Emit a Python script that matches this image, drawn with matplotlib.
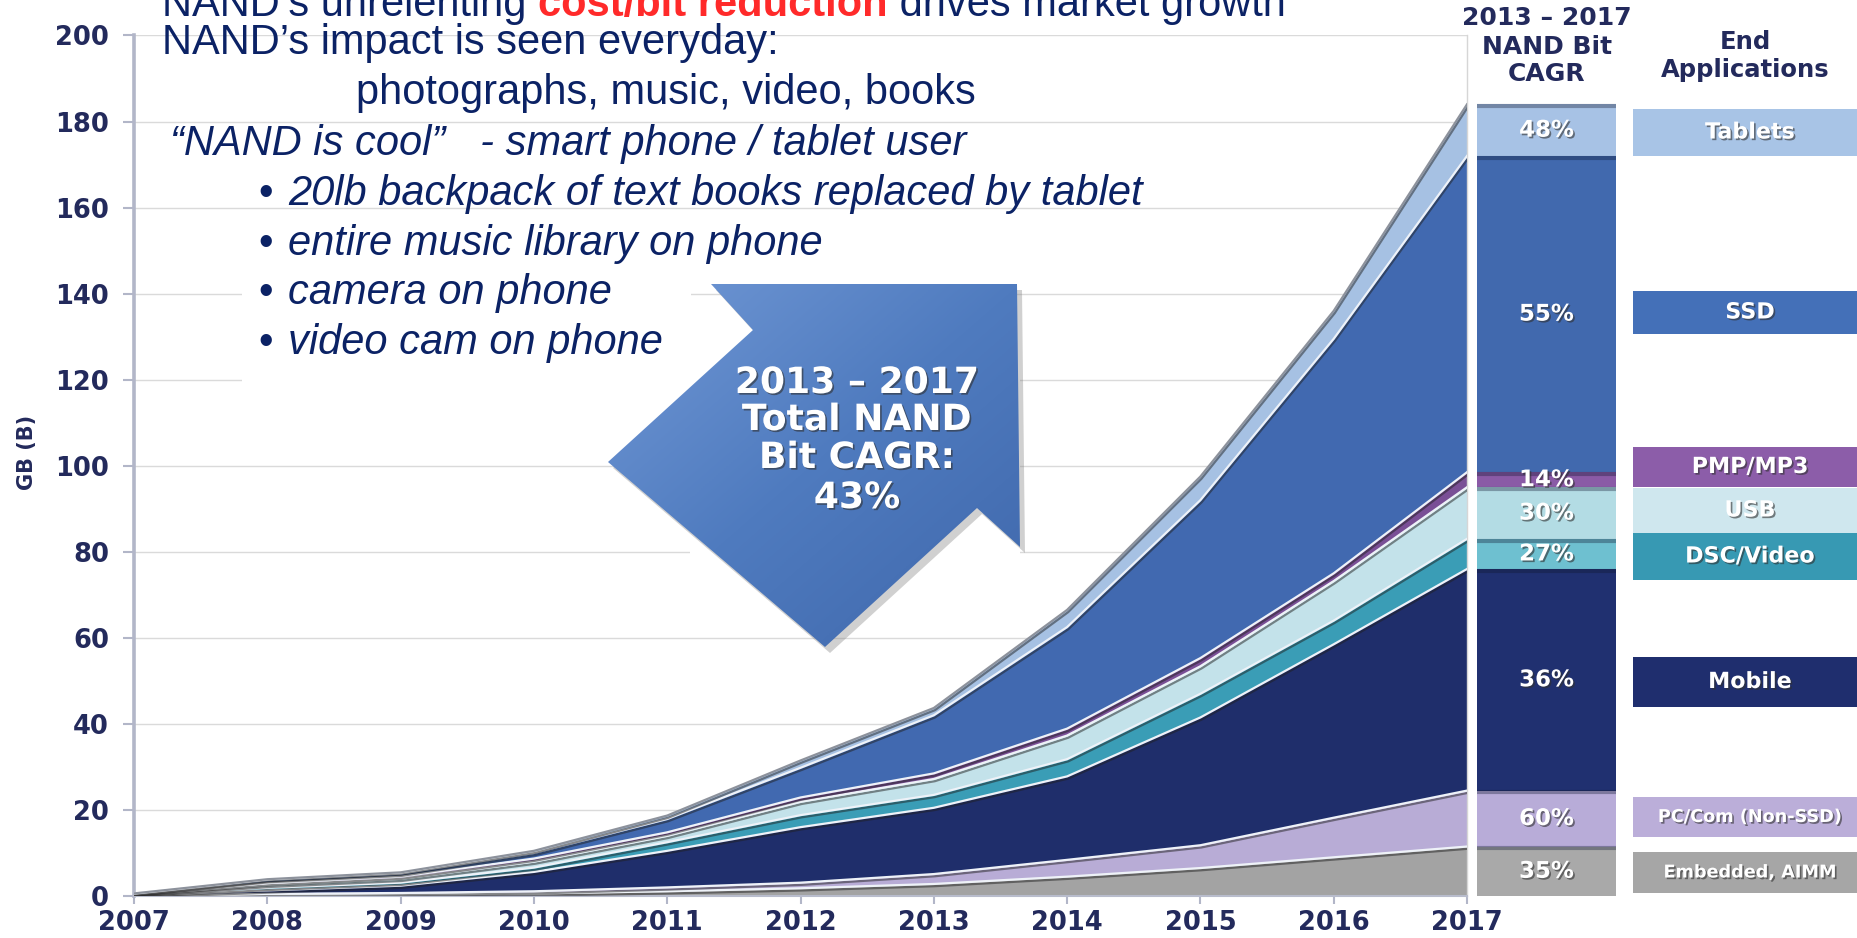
"""
NAND 用途別ビット需要（2007-2017）の積み上げ面グラフ。

右側に 2013-2017 の用途別 CAGR バーと用途ラベルを並べる。

出力:
    out.png
"""

import numpy as np
import matplotlib
matplotlib.use("Agg")
import matplotlib.pyplot as plt
import matplotlib.patheffects as pe
from matplotlib import font_manager
from matplotlib.patches import Polygon, Rectangle
from matplotlib.colors import LinearSegmentedColormap

# ── データ（GB (B)、下から積み上げ順）─────────────────────────────────────────
YEARS = list(range(2007, 2018))

EMBEDDED  = [0.03, 0.2, 0.35, 0.6, 1.1, 1.8, 2.8, 4.5, 6.5, 9.0, 11.5]
PC_COM    = [0.03, 0.3, 0.35, 0.5, 0.9, 1.3, 2.3, 3.9, 5.3, 9.2, 13.0]
MOBILE    = [0.09, 0.8, 1.7, 4.5, 8.5, 12.9, 15.4, 19.4, 29.7, 40.3, 51.5]
DSC_VIDEO = [0.10, 0.6, 0.7, 1.0, 2.0, 2.8, 3.0, 4.0, 5.5, 5.5, 7.0]
USB       = [0.10, 0.7, 0.9, 1.4, 1.5, 3.1, 3.7, 5.5, 6.4, 9.2, 12.0]
PMP_MP3   = [0.10, 0.4, 0.5, 0.7, 0.8, 1.0, 1.3, 1.6, 1.9, 1.8, 3.5]
SSD       = [0.10, 0.7, 0.7, 1.3, 3.1, 6.9, 13.5, 23.6, 36.7, 54.5, 73.5]
TABLETS   = [0.05, 0.2, 0.3, 0.5, 0.8, 1.7, 1.7, 4.0, 5.5, 6.5, 12.0]

APP_NAMES = ["Embedded, AIMM", "PC/Com (Non-SSD)", "Mobile", "DSC/Video",
             "USB", "PMP/MP3", "SSD", "Tablets"]
CAGR_LABELS = ["35%", "60%", "36%", "27%", "30%", "14%", "55%", "48%"]
TOTAL_CAGR = "43%"

# ── 色・フォント ──────────────────────────────────────────────────────────────
AREA_COLORS   = ["#a3a3a3", "#b8acd6", "#1f2e6b", "#3a9db6",
                 "#c3e2ea", "#7a4f96", "#4169b0", "#a6c1e3"]
BAR_COLORS    = ["#a9a9a9", "#b8acd8", "#203070", "#6ec0d0",
                 "#b3dce4", "#8a5aa6", "#4169ae", "#a7c2e5"]
LEGEND_COLORS = ["#a6a6a6", "#bbaed9", "#1f2e6e", "#3799b3",
                 "#cfe7ee", "#8c5da9", "#4470b8", "#a8c4e6"]
NAVY = "#0b2265"
TICK_NAVY = "#232a5c"

_fonts = {f.name for f in font_manager.fontManager.ttflist}
_narrow_sizes = {"Liberation Sans Narrow": 36, "DejaVu Sans Condensed": 31}
TOP_FONT = next((n for n in _narrow_sizes if n in _fonts), "Liberation Sans")
TS = _narrow_sizes.get(TOP_FONT, 30)

SHADOW = [pe.SimplePatchShadow(offset=(1.2, -1.2), shadow_rgbFace="#303030", alpha=0.6),
          pe.Normal()]

W, H = 1858, 938
fig = plt.figure(figsize=(W / 100, H / 100), dpi=100)
fig.patch.set_facecolor("white")

AX_BOTTOM = 1 - 896 / H
AX_HEIGHT = (896 - 35.5) / H

# ── 積み上げ面グラフ ──────────────────────────────────────────────────────────
ax = fig.add_axes([134 / W, AX_BOTTOM, (1467 - 134) / W, AX_HEIGHT])
stack = np.vstack([EMBEDDED, PC_COM, MOBILE, DSC_VIDEO, USB, PMP_MP3, SSD, TABLETS])
cum = np.cumsum(stack, axis=0)
ax.stackplot(YEARS, stack, colors=AREA_COLORS, linewidth=0, zorder=2)

line_fx = [pe.SimpleLineShadow(offset=(0.8, -1.6), shadow_color="#202020", alpha=0.5),
           pe.Normal()]
for i, row in enumerate(cum):
    color = "#8d929c" if i == len(cum) - 1 else "#eef2f8"
    ax.plot(YEARS, row, color=color, lw=1.6, zorder=3, path_effects=line_fx)

ax.set_xlim(2007, 2017)
ax.set_ylim(0, 200)
ax.set_xticks(YEARS)
ax.set_yticks(range(0, 201, 20))
ax.yaxis.grid(True, color="#dadada", lw=1)
ax.set_axisbelow(True)
ax.spines["top"].set_visible(False)
ax.spines["left"].set_color("#b2b6c8")
ax.spines["left"].set_linewidth(2.6)
ax.spines["bottom"].set_color("#b8bccc")
ax.spines["bottom"].set_linewidth(1.5)
ax.spines["right"].set_color("#d6d6d6")
ax.spines["right"].set_linewidth(1)
ax.tick_params(axis="x", direction="out", length=6, width=1.5, color="#b2b6c8",
               labelsize=18.5, labelcolor=TICK_NAVY, pad=4)
ax.tick_params(axis="y", direction="out", length=8, width=1.5, color="#b2b6c8",
               labelsize=18.5, labelcolor=TICK_NAVY, pad=10)
for lbl in ax.get_xticklabels() + ax.get_yticklabels():
    lbl.set_fontweight("bold")
fig.text(27 / W, 1 - 452 / H, "GB (B)", rotation=90, ha="center", va="center",
         fontsize=15, fontweight="bold", color=TICK_NAVY)

# ── 2017 年の用途別 CAGR バー ─────────────────────────────────────────────────
axb = fig.add_axes([1477 / W, AX_BOTTOM, (1616 - 1477) / W, AX_HEIGHT])
axb.set_xlim(0, 1)
axb.set_ylim(0, 200)
axb.axis("off")
v17 = stack[:, -1]
b17 = cum[:, -1] - v17
axb.bar(0.5, v17, bottom=b17, width=1.0, color=BAR_COLORS, edgecolor="none")
for v, b, lbl in zip(v17, b17, CAGR_LABELS):
    # セグメント上端の影
    axb.plot([0, 1], [b + v - 0.4, b + v - 0.4], color="#101830", lw=3, alpha=0.35,
             solid_capstyle="butt")
    axb.text(0.5, b + v / 2, lbl, ha="center", va="center", fontsize=16.5,
             fontweight="bold", color="white", path_effects=SHADOW)

# ── 注釈レイヤ（ピクセル座標）────────────────────────────────────────────────
ov = fig.add_axes([0, 0, 1, 1], facecolor="none")
ov.set_xlim(0, W)
ov.set_ylim(H, 0)
ov.axis("off")

# テキストと矢印の背後はグリッドを隠す
ov.add_patch(Rectangle((242, 225), 449, 160, facecolor="white", edgecolor="none", zorder=1))
ov.add_patch(Rectangle((690, 328), 330, 272, facecolor="white", edgecolor="none", zorder=1))

# 右上向きの太矢印（グラデーション塗り）
arrow_pts = [(1017, 284), (711, 284), (753, 330), (608, 462),
             (825, 647), (977, 508), (1020, 547)]
shadow_pts = [(x + 5, y + 6) for x, y in arrow_pts]
ov.add_patch(Polygon(shadow_pts, closed=True, facecolor="#7a7a7a", alpha=0.35,
                     edgecolor="none", zorder=3))
arrow = Polygon(arrow_pts, closed=True, facecolor="none", edgecolor="none", zorder=4)
ov.add_patch(arrow)
gx, gy = np.meshgrid(np.linspace(0, 1, 200), np.linspace(0, 1, 200))
grad = (gx + gy) / 2
cmap = LinearSegmentedColormap.from_list("arrow", ["#7299d6", "#4f7bbf", "#3f67ab"])
im = ov.imshow(grad, extent=(600, 1025, 650, 280), cmap=cmap, aspect="auto",
               zorder=4, interpolation="bilinear")
im.set_clip_path(arrow)
ov.set_xlim(0, W)
ov.set_ylim(H, 0)

for y, s in zip([383, 420, 458, 498],
                ["2013 – 2017", "Total NAND", "Bit CAGR:", TOTAL_CAGR]):
    ov.text(857, y, s, ha="center", va="center", fontsize=26, fontweight="bold",
            color="white", zorder=6, path_effects=SHADOW)

# 見出し
for y, s in zip([18, 47, 74], ["2013 – 2017", "NAND Bit", "CAGR"]):
    ov.text(1547, y, s, ha="center", va="center", fontsize=18,
            fontweight="bold", color=TICK_NAVY)
for y, s in zip([42, 70], ["End", "Applications"]):
    ov.text(1745, y, s, ha="center", va="center", fontsize=17.5,
            fontweight="bold", color=TICK_NAVY)

# 用途ラベル（上端, 下端 [px]）
LEGEND_BOXES = [(852, 893), (797, 837), (657, 707), (533, 580),
                (488, 533), (447, 487), (291, 334), (109, 156)]
for (top, bot), name, col in zip(LEGEND_BOXES, APP_NAMES, LEGEND_COLORS):
    ov.add_patch(Rectangle((1633, top), W - 1633 + 5, bot - top,
                           facecolor=col, edgecolor="none", zorder=2))
    small = name in ("Embedded, AIMM", "PC/Com (Non-SSD)")
    ov.text(1750, (top + bot) / 2, name, ha="center", va="center",
            fontsize=12.7 if small else 16, fontweight="bold", color="white",
            zorder=3, path_effects=SHADOW)

# ── 左上の説明文 ──────────────────────────────────────────────────────────────
kw = dict(fontsize=TS, family=TOP_FONT, color=NAVY, zorder=6)
t1 = ov.text(162, 16, "NAND’s unrelenting ", va="baseline", ha="left", **kw)
t2 = ov.annotate("cost/bit reduction", xy=(1, 0), xycoords=t1, va="bottom", ha="left",
                 fontweight="bold", **{**kw, "color": "#ff2a2a"})
ov.annotate(" drives market growth", xy=(1, 0), xycoords=t2, va="bottom", ha="left", **kw)
ov.text(162, 54, "NAND’s impact is seen everyday:", va="baseline", **kw)
ov.text(356, 104, "photographs, music, video, books", va="baseline", **kw)
ov.text(170, 155, "“NAND is cool”   - smart phone / tablet user", va="baseline",
        style="italic", **kw)
BULLETS = ["20lb backpack of text books replaced by tablet",
           "entire music library on phone",
           "camera on phone",
           "video cam on phone"]
for y, s in zip([205, 255, 304, 354], BULLETS):
    ov.text(258, y, "•", va="baseline", **kw)
    ov.text(288, y, s, va="baseline", style="italic", **kw)

fig.savefig("out.png", dpi=100, facecolor="white")
